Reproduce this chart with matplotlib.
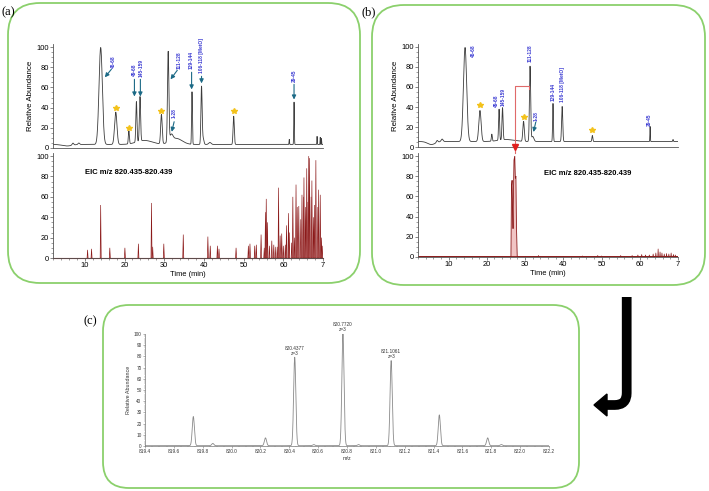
import numpy as np
import matplotlib
matplotlib.use('Agg')
import matplotlib.pyplot as plt
from matplotlib.patches import FancyBboxPatch, PathPatch, Polygon
from matplotlib.path import Path
from matplotlib.ticker import MultipleLocator

plt.rcParams['font.family'] = ['Liberation Sans', 'DejaVu Sans']

# ---- panel (a) total ion chromatogram: peak table (time, height, width) ----
tic_a_base = 3.5
tic_a_time = [5.5, 7.0, 8.5, 14.0, 17.8, 21.1, 23.0, 23.9, 25.0, 29.3, 31.0, 31.8, 33.0,
              37.0, 39.4, 39.8, 41.5, 47.5, 61.5, 62.7, 68.5, 69.3, 69.6]
tic_a_height = [-1.5, 2, 1.5, 96, 32, 13, 40, 44, 4, 29, 89, 6, 6,
                52, 57, 6, 2, 28, 5, 42, 8, 7, 6]
tic_a_width = [1.2, 0.2, 0.2, 0.42, 0.3, 0.13, 0.14, 0.15, 2.0, 0.19, 0.17, 0.4, 1.5,
               0.1, 0.15, 0.2, 0.3, 0.15, 0.06, 0.07, 0.05, 0.05, 0.04]

# ---- panel (b) total ion chromatogram ----
tic_b_base = 5.5
tic_b_time = [5.5, 7.0, 8.3, 14.3, 18.2, 21.3, 23.2, 24.1, 25.0, 29.6, 31.3, 32.0,
              37.3, 39.7, 47.6, 62.7, 68.7]
tic_b_height = [-3, 2, 2.5, 94, 31, 7, 31, 32, 2, 20, 75, 5,
                38, 35, 6, 15, 2]
tic_b_width = [1.0, 0.2, 0.25, 0.42, 0.3, 0.12, 0.13, 0.14, 2.0, 0.19, 0.16, 0.3,
               0.1, 0.15, 0.12, 0.06, 0.08]

# ---- fragment labels: (text, label x, label y, arrow tail, arrow head) ----
labels_a = ['46-68', '49-68', '145-159', '111-128', '1-28', '129-144', '106-118 [MetO]', '29-45']
label_a_xy = [(17.3, 85), (22.5, 77), (24.1, 79), (33.7, 87), (32.6, 34.5), (36.9, 87), (39.4, 92), (62.7, 72)]
arrow_a_tail = [(16.7, 78), (22.5, 68), (24.0, 68), (33.3, 77), (32.5, 26), (36.9, 75), (39.4, 71), (62.7, 63)]
arrow_a_head = [(15.05, 70), (22.5, 51), (24.0, 51), (31.6, 68), (31.9, 16), (36.9, 58), (39.4, 64), (62.7, 48)]
stars_a = [(17.8, 40), (21.1, 20), (29.2, 37), (47.5, 37)]

labels_b = ['46-68', '49-68', '145-159', '111-128', '1-28', '129-144', '106-118 [MetO]', '29-45']
label_b_xy = [(16.4, 96), (22.6, 46), (24.3, 50), (31.3, 94), (33.0, 31), (37.3, 55), (39.8, 62), (62.6, 27)]
arrow_b_tail = [(32.8, 25)]
arrow_b_head = [(32.2, 15)]
stars_b = [(18.2, 42), (29.6, 30), (47.6, 17)]

# ---- EIC panel (a): spikes ----
eic_a_time = [10.7, 11.7, 14.0, 16.3, 20.1, 23.5, 26.8, 27.1, 29.9, 34.8, 41.0, 41.6, 43.4, 43.8,
              48.1, 51.2, 51.6, 52.8, 53.2, 54.4, 55.2, 55.5, 55.7, 56.0, 56.5, 57.1, 57.6, 58.1,
              58.6, 58.8, 59.2, 59.6, 60.0, 60.5, 60.8, 61.3, 61.5, 62.1, 62.4, 62.8, 63.2, 63.5,
              63.9, 64.4, 64.7, 65.1, 65.2, 65.6, 65.9, 66.2, 66.4, 66.6, 67.0, 67.2, 67.6, 67.9,
              68.2, 68.7, 68.9, 69.3, 69.6, 69.8]
eic_a_height = [8, 9, 52, 10, 10, 14, 54, 11, 14, 23, 21, 12, 12, 9,
                10, 12, 14, 12, 13, 23, 10, 45, 58, 35, 12, 17, 13, 11,
                11, 69, 22, 24, 12, 13, 32, 44, 25, 15, 60, 20, 72, 50,
                51, 38, 62, 60, 79, 50, 88, 55, 100, 98, 60, 76, 40, 52,
                96, 50, 67, 62, 20, 12]

# ---- EIC panel (b): main peak outline + late noise ----
eic_b_time = [2, 26.3, 26.45, 26.6, 26.75, 26.85, 26.95, 27.1, 27.3, 27.45, 27.6, 27.75, 27.95, 70]
eic_b_value = [0, 0, 70, 76, 45, 28, 60, 96, 100, 78, 80, 30, 0, 0]
eic_b_noise_time = [33.5, 45, 49, 50, 55, 58, 59.5, 60.5, 61.5, 62.5, 63.5, 64.2, 64.8, 65.3,
                    65.8, 66.4, 67.0, 67.6, 68.2, 68.8, 69.3]
eic_b_noise_height = [1.5, 1, 1.5, 1, 1.5, 1.5, 2, 2.5, 2, 2, 3, 4, 8, 5, 4, 3, 3.5, 3, 4, 2.5, 2]

# ---- panel (c) isotope spectrum ----
ms_mz = [819.735, 819.87, 820.235, 820.4377, 820.57, 820.7720, 820.88, 821.1061, 821.44, 821.775, 821.87]
ms_int = [26, 2, 7, 79, 1, 100, 1, 76, 27.5, 7, 1]
ms_labels = {820.4377: '820.4377\nz=3', 820.7720: '820.7720\nz=3', 821.1061: '821.1061\nz=3'}

time_ticks = [10, 20, 30, 40, 50, 60, 70]
time_tick_labels = ['10', '20', '30', '40', '50', '60', '7']

GREY = '#3c3c3c'
TEAL = '#1c6a86'
BLUE = '#3a3ad2'
STAR = '#f3c21b'
DARKRED = '#8b1a1a'


def peaks(t, base, centers, heights, widths):
    y = np.full_like(t, base)
    for c, h, w in zip(centers, heights, widths):
        y = y + h * np.exp(-0.5 * ((t - c) / w) ** 2)
    return y


def style_axes(ax, xlabels):
    for s in ['top', 'right']:
        ax.spines[s].set_visible(False)
    for s in ['left', 'bottom']:
        ax.spines[s].set_linewidth(0.6)
        ax.spines[s].set_color('#555555')
    ax.set_xlim(2, 70)
    ax.set_ylim(0, 103)
    ax.set_yticks(range(0, 101, 20))
    ax.yaxis.set_minor_locator(MultipleLocator(5))
    ax.tick_params(axis='both', which='major', labelsize=5.4, length=2, width=0.5, pad=1, color='#555555')
    ax.tick_params(axis='both', which='minor', length=1.2, width=0.4, color='#555555')
    if xlabels:
        ax.set_xticks(time_ticks)
        ax.set_xticklabels(time_tick_labels)
        ax.xaxis.set_minor_locator(MultipleLocator(2))
        ax.set_xlabel('Time (min)', fontsize=5.4, labelpad=1)
    else:
        ax.set_xticks([])
    ax.patch.set_alpha(0)


def draw_tic(ax, base, tt, hh, ww, labels, label_xy, tails, heads, stars):
    t = np.linspace(2, 70, 4000)
    ax.plot(t, peaks(t, base, tt, hh, ww), color=GREY, lw=0.6)
    for txt, (x, y) in zip(labels, label_xy):
        ax.text(x, y, txt, rotation=90, ha='center', va='center', fontsize=3.5,
                fontweight='bold', color=BLUE)
    for tail, head in zip(tails, heads):
        ax.annotate('', xy=head, xytext=tail,
                    arrowprops=dict(arrowstyle='-|>', color=TEAL, lw=0.8, mutation_scale=6,
                                    shrinkA=0, shrinkB=0))
    for x, y in stars:
        ax.plot(x, y, marker='*', ms=3.8, color=STAR, mec=STAR)
    ax.set_ylabel('Relative Abundance', fontsize=5.7, labelpad=2)


fig = plt.figure(figsize=(7.09, 4.91), dpi=100)

# background overlay in pixel coordinates for boxes and the arrow
bg = fig.add_axes([0, 0, 1, 1], zorder=-1)
bg.set_xlim(0, 709)
bg.set_ylim(491, 0)
bg.axis('off')
box_kw = dict(boxstyle='round,pad=0,rounding_size=32', fill=False, ec='#8bd06c', lw=1.3)
bg.add_patch(FancyBboxPatch((8, 3), 352, 280, **box_kw))
bg.add_patch(FancyBboxPatch((372, 5), 333, 280, **box_kw))
bg.add_patch(FancyBboxPatch((103, 305), 476, 183, boxstyle='round,pad=0,rounding_size=26',
                            fill=False, ec='#8bd06c', lw=1.3))
bg.text(2, 12, '(a)', fontsize=9, family='Liberation Serif', va='center')
bg.text(362, 12, '(b)', fontsize=9, family='Liberation Serif', va='center')
bg.text(84, 321, '(c)', fontsize=9, family='Liberation Serif', va='center')

# J-shaped arrow between (b) and (c)
verts = [(626.7, 297), (626.7, 393), (626.7, 405), (614.7, 405), (605, 405)]
codes = [Path.MOVETO, Path.LINETO, Path.CURVE3, Path.CURVE3, Path.LINETO]
bg.add_patch(PathPatch(Path(verts, codes), fill=False, lw=7, ec='black', capstyle='butt'))
bg.add_patch(Polygon([(594, 405), (607, 394), (607, 416)], closed=True, fc='black', ec='black'))

# panel (a)
ax_a1 = fig.add_axes([0.0748, 0.6986, 0.3808, 0.2118])
style_axes(ax_a1, False)
draw_tic(ax_a1, tic_a_base, tic_a_time, tic_a_height, tic_a_width,
         labels_a, label_a_xy, arrow_a_tail, arrow_a_head, stars_a)

ax_a2 = fig.add_axes([0.0748, 0.4745, 0.3808, 0.2138])
style_axes(ax_a2, True)
ax_a2.plot([2, 70], [0, 0], color=DARKRED, lw=0.8, clip_on=False)
for t0, h in zip(eic_a_time, eic_a_height):
    ax_a2.fill([t0 - 0.13, t0, t0 + 0.13], [0, h, 0], fc='#e2a3a3', ec=DARKRED, lw=0.45)
ax_a2.text(10, 84, 'EIC m/z 820.435-820.439', fontsize=5.5, fontweight='bold', va='center')

# panel (b)
ax_b1 = fig.add_axes([0.5896, 0.7006, 0.3667, 0.2098])
style_axes(ax_b1, False)
draw_tic(ax_b1, tic_b_base, tic_b_time, tic_b_height, tic_b_width,
         labels_b, label_b_xy, arrow_b_tail, arrow_b_head, stars_b)
ax_b1.plot([27.4, 27.4, 30.9, 30.9], [-6, 61, 61, 58], color='#e06a6a', lw=0.8, clip_on=False)
ax_b1.plot(27.4, 0, marker='v', ms=4, color='#e0201e', clip_on=False, zorder=5)

ax_b2 = fig.add_axes([0.5896, 0.4766, 0.3667, 0.2118])
style_axes(ax_b2, True)
ax_b2.fill(eic_b_time, eic_b_value, fc='#f1c4c4', ec=DARKRED, lw=0.6)
ax_b2.plot([2, 70], [0.6, 0.6], color=DARKRED, lw=0.6)
for t0, h in zip(eic_b_noise_time, eic_b_noise_height):
    ax_b2.plot([t0 - 0.1, t0, t0 + 0.1], [0.6, h, 0.6], color=DARKRED, lw=0.45)
ax_b2.text(34.9, 83, 'EIC m/z 820.435-820.439', fontsize=5.5, fontweight='bold', va='center')

# panel (c)
ax_c = fig.add_axes([0.2045, 0.0916, 0.5698, 0.2281])
mz = np.linspace(819.4, 822.2, 6000)
ax_c.plot(mz, peaks(mz, 0.3, ms_mz, ms_int, [0.0075] * len(ms_mz)), color='#8a8a8a', lw=0.6)
for x, lab in ms_labels.items():
    h = ms_int[ms_mz.index(x)]
    ax_c.text(x, h + 1.5, lab, ha='center', va='bottom', fontsize=3.4, linespacing=1.0,
              color='#333333', clip_on=False)
for s in ['top', 'right']:
    ax_c.spines[s].set_visible(False)
for s in ['left', 'bottom']:
    ax_c.spines[s].set_linewidth(0.5)
    ax_c.spines[s].set_color('#777777')
ax_c.set_xlim(819.4, 822.2)
ax_c.set_ylim(0, 100)
ax_c.set_xticks(np.arange(819.4, 822.21, 0.2))
ax_c.set_xticklabels(['%.1f' % v for v in np.arange(819.4, 822.21, 0.2)])
ax_c.xaxis.set_minor_locator(MultipleLocator(0.05))
ax_c.set_yticks(range(0, 101, 10))
ax_c.yaxis.set_minor_locator(MultipleLocator(2))
ax_c.tick_params(which='major', labelsize=3.4, length=1.5, width=0.4, pad=1, color='#777777',
                 labelcolor='#333333')
ax_c.tick_params(which='minor', length=0.8, width=0.3, color='#777777')
ax_c.set_xlabel('m/z', fontsize=3.8, labelpad=1, color='#333333')
ax_c.set_ylabel('Relative Abundance', fontsize=3.9, labelpad=2, color='#333333')
ax_c.patch.set_alpha(0)

fig.savefig('out.png', dpi=100)
